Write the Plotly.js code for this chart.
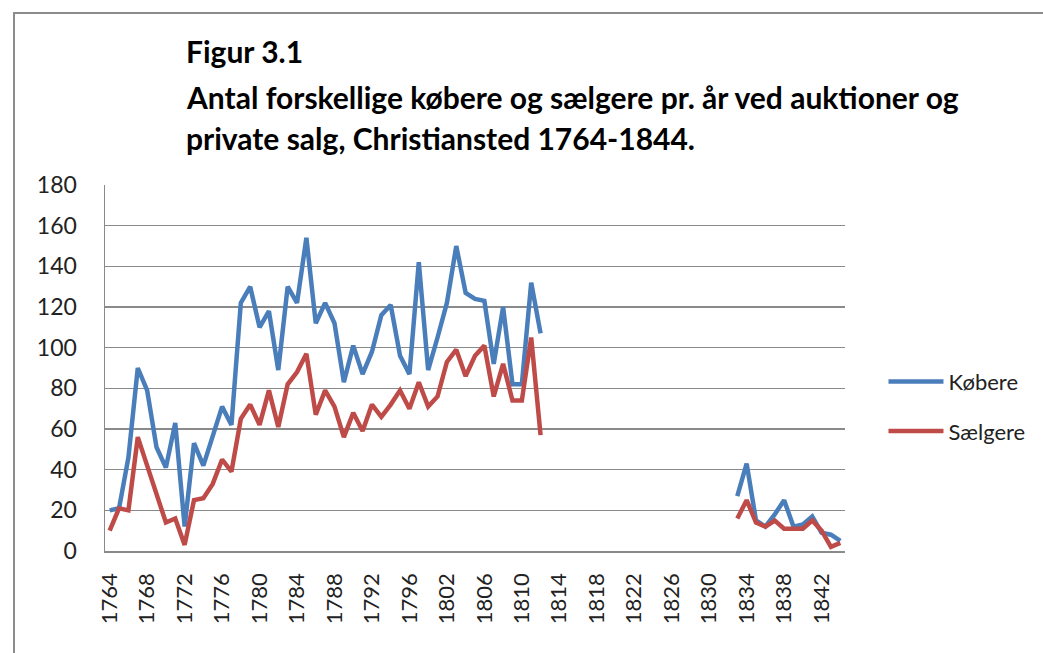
<!DOCTYPE html>
<html>
<head>
<meta charset="utf-8">
<script src="https://cdn.plot.ly/plotly-3.0.1.min.js"></script>
<style>
  html, body { margin: 0; padding: 0; background: #ffffff; overflow: hidden; }
  #frame { position: absolute; left: 13px; top: 12px; width: 1200px; height: 800px;
           border: 2px solid #8c8c8c; box-sizing: border-box; }
  #chart { position: absolute; left: 0; top: 0; width: 1043px; height: 653px; }
</style>
</head>
<body>
<div id="frame"></div>
<div id="chart"></div>
<script>
// Categories (years as they appear on the category axis)
const years = [
  "1764","1765","1766","1767","1768","1769","1770","1771","1772","1773",
  "1774","1775","1776","1777","1778","1779","1780","1781","1782","1783",
  "1784","1785","1786","1787","1788","1789","1790","1791","1792","1793",
  "1794","1795","1796","1797","1798","1799",
  "1802","1803","1804","1805","1806","1807","1808","1809","1810","1811",
  "1812","1813","1814","1815","1816","1817","1818","1819","1820","1821",
  "1822","1823","1824","1825","1826","1827","1828","1829","1830","1831",
  "1832","1833","1834","1835","1836","1837","1838","1839","1840","1841",
  "1842","1843","1844"
];

// Købere (buyers)
const kobere = [
  20, 21, 46, 90, 79, 51, 41, 63, 12, 53,
  42, 56, 71, 62, 122, 130, 110, 118, 89, 130,
  122, 154, 112, 122, 112, 83, 101, 87, 98, 116,
  121, 96, 87, 142, 89, 105,
  122, 150, 127, 124, 123, 92, 120, 82, 82, 132,
  107, null, null, null, null, null, null, null, null, null,
  null, null, null, null, null, null, null, null, null, null,
  null, 27, 43, 15, 12, 18, 25, 12, 13, 17,
  9, 8, 5
];

// Sælgere (sellers)
const saelgere = [
  10, 21, 20, 56, 42, 28, 14, 16, 3, 25,
  26, 33, 45, 39, 65, 72, 62, 79, 61, 82,
  88, 97, 67, 79, 71, 56, 68, 59, 72, 66,
  72, 79, 70, 83, 71, 76,
  93, 99, 86, 96, 101, 76, 92, 74, 74, 105,
  57, null, null, null, null, null, null, null, null, null,
  null, null, null, null, null, null, null, null, null, null,
  null, 16, 25, 14, 12, 15, 11, 11, 11, 15,
  10, 2, 4
];

const seriesNames = ["Købere", "Sælgere"];
const titleLines = [
  "Figur 3.1",
  "Antal forskellige købere og sælgere pr. år ved auktioner og",
  "private salg, Christiansted 1764-1844."
];

const xTicks = years.filter((y, i) => i % 4 === 0);

const FONT = "Lato, 'Open Sans', sans-serif";
const GRID = "#8a8a8a";

const traces = [
  { x: years, y: kobere, name: seriesNames[0], type: "scatter", mode: "lines",
    line: { color: "#4a7ebb", width: 4.5 }, connectgaps: false, legendgroup: "a" },
  { x: years, y: saelgere, name: seriesNames[1], type: "scatter", mode: "lines",
    line: { color: "#be4b48", width: 4.5 }, connectgaps: false, legendgroup: "b" }
];

const titleY = [1.366, 1.240, 1.128];
const annotations = titleLines.map((t, i) => ({
  text: t, xref: "paper", yref: "paper", x: 0.107, y: titleY[i],
  xanchor: "left", yanchor: "middle", showarrow: false,
  font: { family: FONT, size: 30, color: "#000000", weight: "bold" }
}));

const layout = {
  width: 1043, height: 653,
  paper_bgcolor: "rgba(0,0,0,0)", plot_bgcolor: "#ffffff",
  margin: { l: 105, r: 198, t: 185, b: 102 },
  showlegend: true,
  legend: {
    x: 1.052, y: 0.52, xanchor: "left", yanchor: "top",
    font: { family: FONT, size: 22, color: "#222222" },
    itemwidth: 55, tracegroupgap: 18, bgcolor: "rgba(0,0,0,0)"
  },
  xaxis: {
    type: "category", range: [-0.5, years.length - 0.5],
    tickmode: "array", tickvals: xTicks, ticktext: xTicks,
    tickangle: -90, ticklabelstandoff: 12,
    tickfont: { family: FONT, size: 22, color: "#222222" },
    showgrid: false, showline: true, linecolor: GRID, linewidth: 1.5,
    ticks: "", zeroline: false, fixedrange: true
  },
  yaxis: {
    range: [0, 180], dtick: 20, tick0: 0,
    tickfont: { family: FONT, size: 23, color: "#222222" },
    showgrid: true, gridcolor: GRID, gridwidth: 1.2,
    showline: true, linecolor: GRID, linewidth: 1.5,
    ticks: "", ticklabelstandoff: 22, zeroline: false, fixedrange: true
  },
  annotations: annotations
};

Plotly.newPlot("chart", traces, layout, { displayModeBar: false, staticPlot: true });
</script>
</body>
</html>
